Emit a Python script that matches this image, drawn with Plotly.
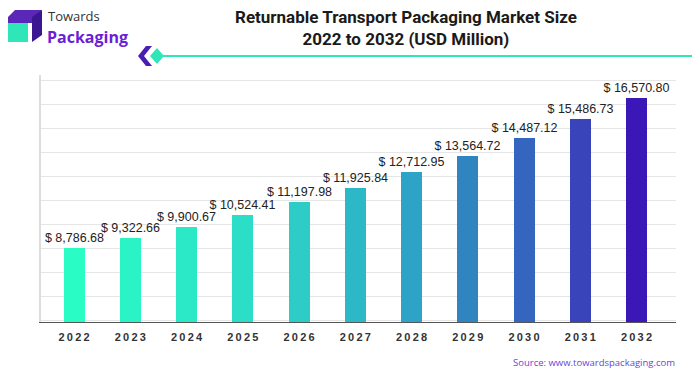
import plotly.graph_objects as go

years = [2022, 2023, 2024, 2025, 2026, 2027, 2028, 2029, 2030, 2031, 2032]
values = [8786.68, 9322.66, 9900.67, 10524.41, 11197.98, 11925.84,
          12712.95, 13564.72, 14487.12, 15486.73, 16570.80]
tick_labels = ["<b>" + "\u2009".join(str(y)) + "</b>" for y in years]
bar_colors = ["#29FCC5", "#2AF3C6", "#2BE8C6", "#2CDDC7", "#2DCCC6", "#2DB8C7",
              "#2EA3C8", "#3085C0", "#3566BF", "#3A44BA", "#3B17B8"]

# page body adds an 8px offset; work in reference pixel coords and shift
OFF = 8
W, H = 700 - OFF, 375 - OFF
L, R, T, B = 41, 676, 75, 322


def px(x):
    return (x - L) / (R - L)


def py(y):
    return (B - y) / (B - T)


fig = go.Figure()
fig.add_trace(go.Bar(
    x=years, y=values, width=0.373,
    marker=dict(color=bar_colors, line=dict(width=0)),
    texttemplate="$ %{y:,.2f}", textposition="outside", constraintext="none",
    textfont=dict(family="Liberation Sans, Arial", size=12.5, color="#222222"),
    cliponaxis=False, hoverinfo="skip",
))

shapes = []


def path(pts, color):
    d = "M " + " L ".join(f"{px(x)},{py(y)}" for x, y in pts) + " Z"
    shapes.append(dict(type="path", path=d, xref="paper", yref="paper",
                       fillcolor=color, line=dict(width=0), layer="above"))


# logo icon
path([(8, 17), (15, 10), (42, 10), (35, 17), (35, 23), (8, 23)], "#5A27B8")
path([(32, 17), (42, 10), (42, 35), (32, 42)], "#3A1690")
path([(8, 23), (28, 23), (28, 42), (8, 42)], "#2EE6B8")
# decorative chevron + line
path([(146, 46), (152, 46), (144, 56), (152, 66), (146, 66), (138, 56)], "#4A1FB0")
path([(157, 48), (164, 56), (157, 64), (150, 56)], "#2EE6B8")
shapes.append(dict(type="line", xref="paper", yref="paper",
                   x0=px(163), x1=px(700), y0=py(56), y1=py(56),
                   line=dict(color="#2EE6B8", width=2)))

annotations = [
    dict(text="<b>Returnable Transport Packaging Market Size<br>2022 to 2032 (USD Million)</b>",
         xref="paper", yref="paper", x=px(406), y=py(5), xanchor="center", yanchor="top",
         showarrow=False, font=dict(family="Roboto, Arial", size=17, color="#1a1a1a")),
    dict(text="Towards", xref="paper", yref="paper", x=px(46), y=py(16),
         xanchor="left", yanchor="middle", showarrow=False,
         font=dict(family="Open Sans, Arial", size=13, color="#333333")),
    dict(text="<b>Packaging</b>", xref="paper", yref="paper", x=px(45), y=py(37),
         xanchor="left", yanchor="middle", showarrow=False,
         font=dict(family="Open Sans, Arial", size=16, color="#6A1FD6")),
    dict(text="Source: www.towardspackaging.com", xref="paper", yref="paper",
         x=px(677), y=py(362), xanchor="right", yanchor="middle", showarrow=False,
         font=dict(family="Open Sans, Arial", size=9.5, color="#6A45D8")),
]

fig.update_layout(
    width=W, height=H, autosize=False,
    margin=dict(l=L - OFF, r=700 - R, t=T - OFF, b=375 - B),
    plot_bgcolor="white", paper_bgcolor="white",
    showlegend=False, shapes=shapes, annotations=annotations,
    xaxis=dict(range=[2021.413, 2032.702], tickvals=years, ticktext=tick_labels,
               showgrid=False, showline=True, linecolor="#555555", linewidth=1,
               ticks="", zeroline=False, fixedrange=True, ticklabelstandoff=5,
               tickfont=dict(family="Liberation Sans, Arial", size=11, color="#333333")),
    yaxis=dict(range=[4946, 17765], tick0=6280, dtick=1245, showticklabels=False,
               showgrid=True, gridcolor="#e6e6e6", gridwidth=1,
               showline=True, linecolor="#dddddd", linewidth=2,
               ticks="", zeroline=False, fixedrange=True),
    bargap=0,
)

fig.write_html("out.html")
